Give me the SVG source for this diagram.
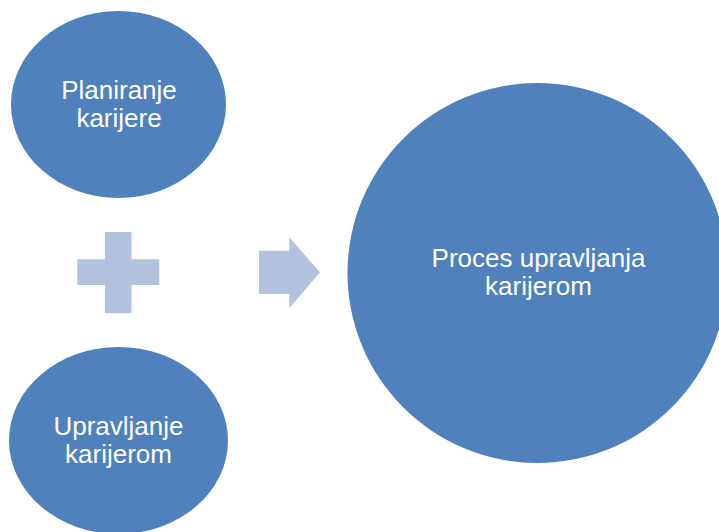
<svg xmlns="http://www.w3.org/2000/svg" width="719" height="532" viewBox="0 0 719 532">
<style>
.node{fill:#4F81BD}
.op{fill:#B3C3DE}
.t{font-family:"Liberation Sans",Arial,sans-serif;font-size:26px;fill:#FFFFFF;text-anchor:middle}
</style>
<rect width="719" height="532" fill="#FFFFFF"/>
<g id="planiranje">
<ellipse class="node" cx="118.5" cy="104.5" rx="107.5" ry="93.5"/>
<text class="t" x="119" y="99">Planiranje</text>
<text class="t" x="119" y="127">karijere</text>
</g>
<g id="upravljanje">
<ellipse class="node" cx="118.5" cy="440.5" rx="109.5" ry="93.5"/>
<text class="t" x="118.5" y="435">Upravljanje</text>
<text class="t" x="118.5" y="463">karijerom</text>
</g>
<g id="plus">
<path class="op" d="M105,232 H131.5 V259.3 H159.3 V285 H131.5 V313.3 H105 V285 H77.3 V259.3 H105 Z"/>
</g>
<g id="connectors">
<path class="op" d="M259,250.7 H289.3 V237.3 L320,272.3 L289.3,308.3 V294 H259 Z"/>
</g>
<g id="proces">
<circle class="node" cx="537.5" cy="273" r="190"/>
<text class="t" x="538.5" y="267">Proces upravljanja</text>
<text class="t" x="538.5" y="295">karijerom</text>
</g>
</svg>
